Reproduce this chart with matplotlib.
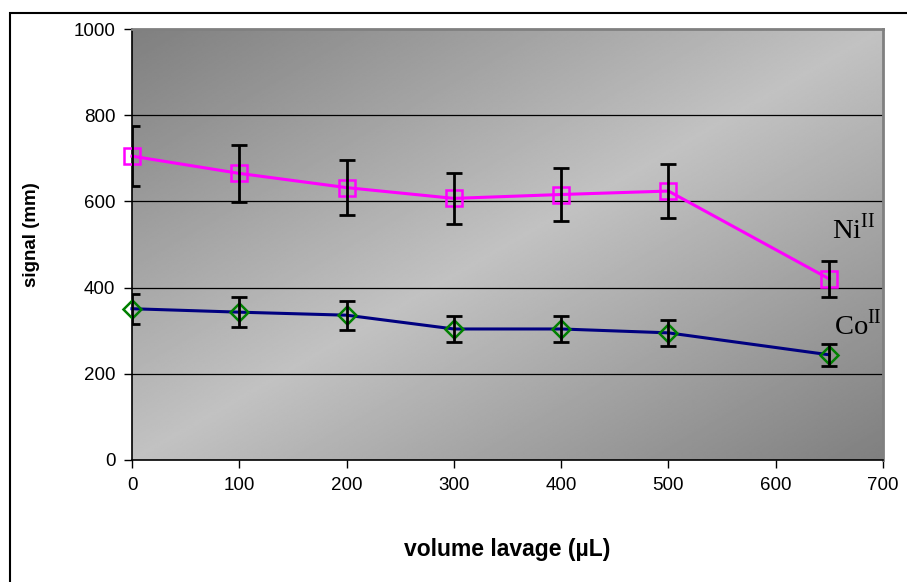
"""
plot.py

Signal vs volume de lavage pour Ni(II) et Co(II), style Excel
(fond gris en dégradé diagonal, barres d'erreur noires).
"""
import numpy as np
import matplotlib
matplotlib.use("Agg")
import matplotlib.pyplot as plt

# données
volume = [0, 100, 200, 300, 400, 500, 650]
ni_signal = [705, 665, 632, 607, 616, 624, 420]
ni_err = [70, 67, 63, 60, 61, 63, 42]
co_signal = [351, 343, 336, 304, 304, 295, 244]
co_err = [35, 35, 34, 31, 31, 30, 25]

series_labels = [r"$\mathrm{Ni}^{\mathrm{II}}$", r"$\mathrm{Co}^{\mathrm{II}}$"]
label_pos = [(652, 513), (654, 290)]

x_ticks = [0, 100, 200, 300, 400, 500, 600, 700]
y_ticks = [0, 200, 400, 600, 800, 1000]

plt.rcParams["font.family"] = ["Liberation Sans", "DejaVu Sans"]
plt.rcParams["mathtext.fontset"] = "custom"
plt.rcParams["mathtext.rm"] = "Liberation Serif"


def gradient_background(ax):
    # clair sur la diagonale bas-gauche -> haut-droite, sombre dans les deux autres coins
    u = np.linspace(0, 1, 400)
    v = np.linspace(0, 1, 300)
    U, V = np.meshgrid(u, v)
    light, dark = 0.76, 0.50
    img = light - (light - dark) * np.abs(U - V)
    ax.imshow(img, cmap="gray", vmin=0, vmax=1, origin="lower",
              extent=[0, 1, 0, 1], transform=ax.transAxes,
              aspect="auto", zorder=0, interpolation="bilinear")


fig = plt.figure(figsize=(9.07, 5.82), dpi=100)
# cadre extérieur (déborde à droite et en bas comme dans l'original)
fig.patches.append(plt.Rectangle((10 / 907, -0.1), 1.2, 1 - 13 / 582 + 0.1,
                                 transform=fig.transFigure, fill=False,
                                 edgecolor="black", linewidth=1.5))

ax = fig.add_axes([132 / 907, 1 - 460 / 582, 751 / 907, 431 / 582])
gradient_background(ax)

ax.set_xlim(0, 700)
ax.set_ylim(0, 1000)
ax.set_xticks(x_ticks)
ax.set_yticks(y_ticks)
ax.tick_params(direction="out", length=6, width=1, labelsize=13.5, pad=6)

for y in y_ticks[1:-1]:
    ax.axhline(y, color="black", linewidth=0.9, zorder=1)

for side in ["top", "right"]:
    ax.spines[side].set_color("#808080")
    ax.spines[side].set_linewidth(2)
for side in ["left", "bottom"]:
    ax.spines[side].set_color("black")
    ax.spines[side].set_linewidth(1.2)

# Ni(II)
ax.plot(volume, ni_signal, color="#ff00ff", linewidth=2.2, marker="s",
        markersize=11, markerfacecolor="none", markeredgecolor="#ff00ff",
        markeredgewidth=1.8, zorder=3, clip_on=False)
ax.errorbar(volume, ni_signal, yerr=ni_err, fmt="none", ecolor="black",
            elinewidth=2, capsize=5.5, capthick=2, zorder=4)

# Co(II)
ax.plot(volume, co_signal, color="#000080", linewidth=2.2, marker="D",
        markersize=9, markerfacecolor="none", markeredgecolor="#008000",
        markeredgewidth=1.8, zorder=3, clip_on=False)
ax.errorbar(volume, co_signal, yerr=co_err, fmt="none", ecolor="black",
            elinewidth=2, capsize=5.5, capthick=2, zorder=4)

for text, (x, y) in zip(series_labels, label_pos):
    ax.text(x, y, text, fontsize=20.5, color="black", ha="left",
            va="baseline", zorder=5)

ax.set_xlabel("volume lavage (µL)", fontsize=16.5, fontweight="bold")
ax.set_ylabel("signal (mm)", fontsize=13.5, fontweight="bold")
ax.xaxis.set_label_coords(0.5, (460 - 538) / 431, transform=ax.transAxes)
ax.yaxis.set_label_coords((40 - 132) / 751, (460 - 235) / 431,
                          transform=ax.transAxes)

fig.savefig("out.png", dpi=100)
print("Saved out.png")
